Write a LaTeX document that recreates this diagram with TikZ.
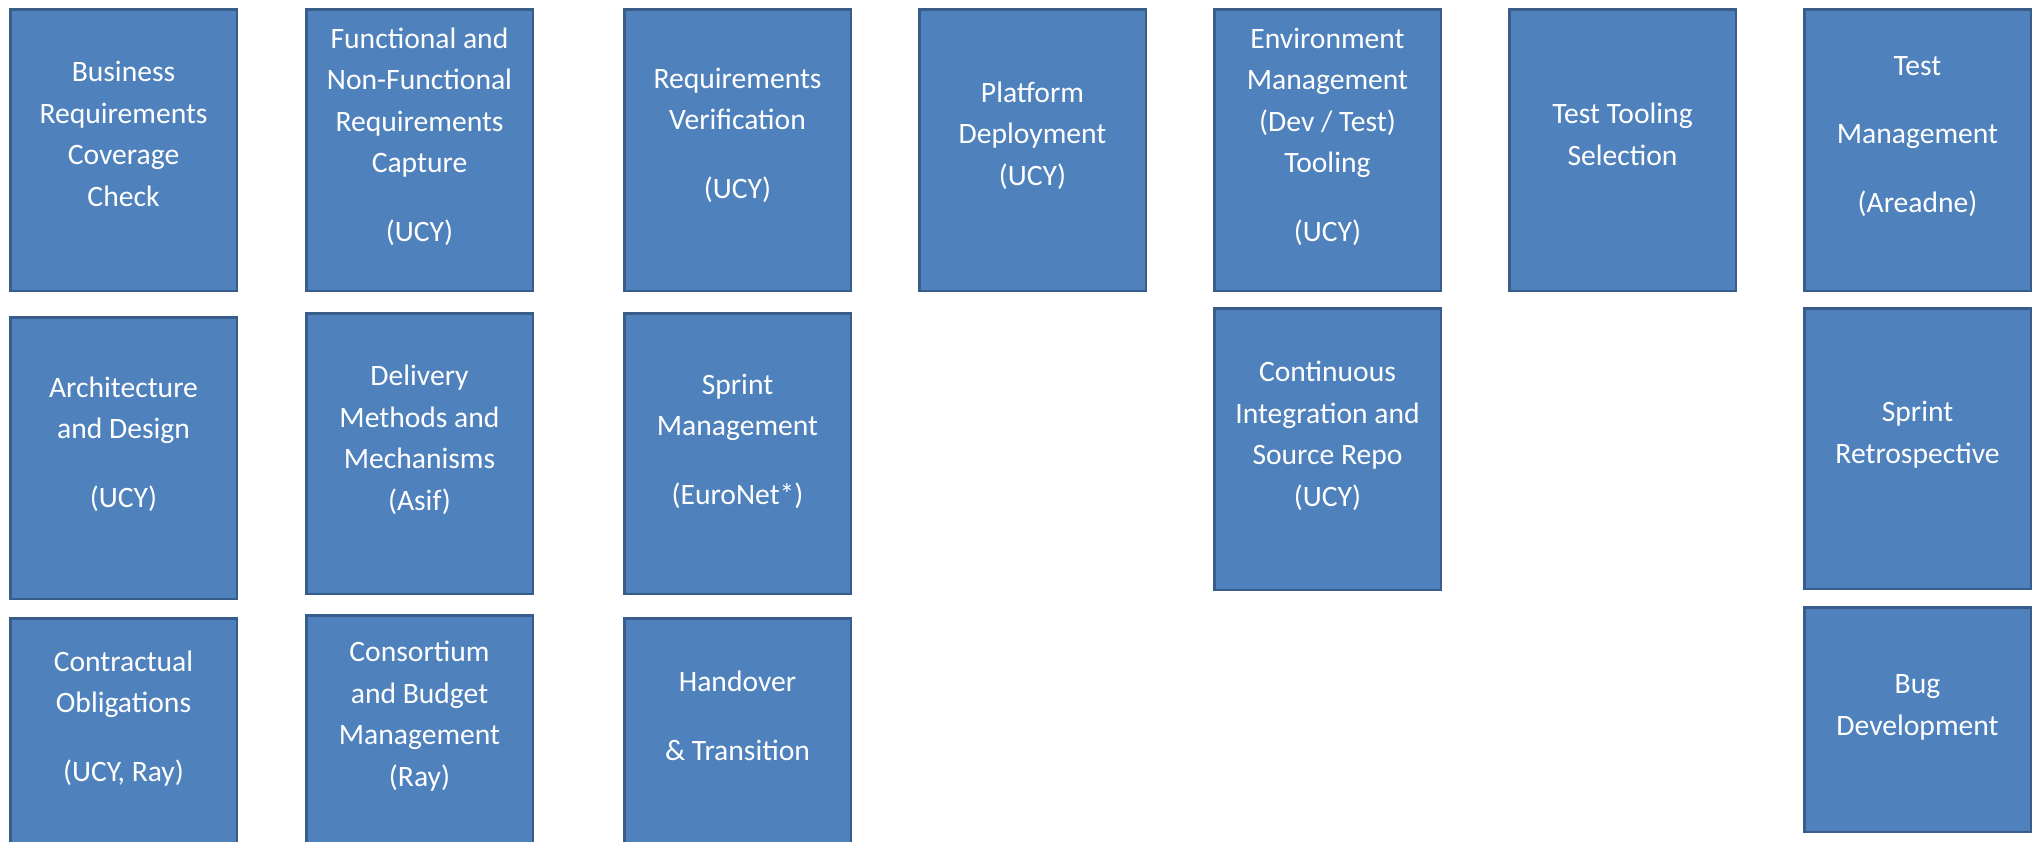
\documentclass[tikz,border=0pt]{standalone}
\usepackage{fontspec}
\setmainfont{Carlito}
\definecolor{boxfill}{HTML}{4F81BD}
\definecolor{boxline}{HTML}{385D8A}
\begin{document}
\begin{tikzpicture}[x=1pt,y=-1pt,
  box/.style={draw=boxline, fill=boxfill, line width=2.5pt, inner sep=0pt, outer sep=0pt,
              minimum width=226.5pt, minimum height=281.5pt},
  txt/.style={text=white, align=center, anchor=base, inner sep=0pt,
              font=\fontsize{29.6}{41.5}\selectfont}]
\useasboundingbox (0,0) rectangle (2041,841);
\clip (0,0) rectangle (2041,841);
% column 1
\node[box] (c1a) at (123.5,150) {};
\node[box] (c1b) at (123.5,458) {};
\node[box, minimum height=280.5pt] (c1c) at (123.5,758.5) {};
% column 2
\node[box] (c2a) at (419.5,150) {};
\node[box, minimum height=280.5pt] (c2b) at (419.5,453.5) {};
\node[box, minimum height=283.5pt] (c2c) at (419.5,757) {};
% column 3
\node[box] (c3a) at (737.5,150) {};
\node[box, minimum height=280.5pt] (c3b) at (737.5,453.5) {};
\node[box, minimum height=280.5pt] (c3c) at (737.5,758.5) {};
% column 4
\node[box] (c4a) at (1032.5,150) {};
% column 5
\node[box] (c5a) at (1327.5,150) {};
\node[box] (c5b) at (1327.5,449) {};
% column 6
\node[box] (c6a) at (1622.5,150) {};
% column 7
\node[box] (c7a) at (1917.5,150) {};
\node[box, minimum height=280.5pt] (c7b) at (1917.5,448.5) {};
\node[box, minimum height=224.5pt] (c7c) at (1917.5,719.5) {};

% texts (anchored at the baseline of the last line)
\node[txt] (t1a) at (123.5,206) {Business\\Requirements\\Coverage\\Check};
\node[txt] (t1b) at (123.5,507) {Architecture\\and Design\\[27pt](UCY)};
\node[txt] (t1c) at (123.5,781) {Contractual\\Obligations\\[27pt](UCY, Ray)};
\node[txt] (t2a) at (419.5,241) {Functional and\\Non-Functional\\Requirements\\Capture\\[27pt](UCY)};
\node[txt] (t2b) at (419.5,510) {Delivery\\Methods and\\Mechanisms\\(Asif)};
\node[txt] (t2c) at (419.5,786) {Consortium\\and Budget\\Management\\(Ray)};
\node[txt] (t3a) at (737.5,198) {Requirements\\Verification\\[27pt](UCY)};
\node[txt] (t3b) at (737.5,504) {Sprint\\Management\\[27pt](EuroNet*)};
\node[txt] (t3c) at (737.5,760) {Handover\\[27pt]\& Transition};
\node[txt] (t4a) at (1032.5,185) {Platform\\Deployment\\(UCY)};
\node[txt] (t5a) at (1327.5,241) {Environment\\Management\\(Dev / Test)\\Tooling\\[27pt](UCY)};
\node[txt] (t5b) at (1327.5,506) {Continuous\\Integration and\\Source Repo\\(UCY)};
\node[txt] (t6a) at (1622.5,165) {Test Tooling\\Selection};
\node[txt] (t7a) at (1917.5,212) {Test\\[27pt]Management\\[27pt](Areadne)};
\node[txt] (t7b) at (1917.5,463) {Sprint\\Retrospective};
\node[txt] (t7c) at (1917.5,735) {Bug\\Development};
\end{tikzpicture}
\end{document}
